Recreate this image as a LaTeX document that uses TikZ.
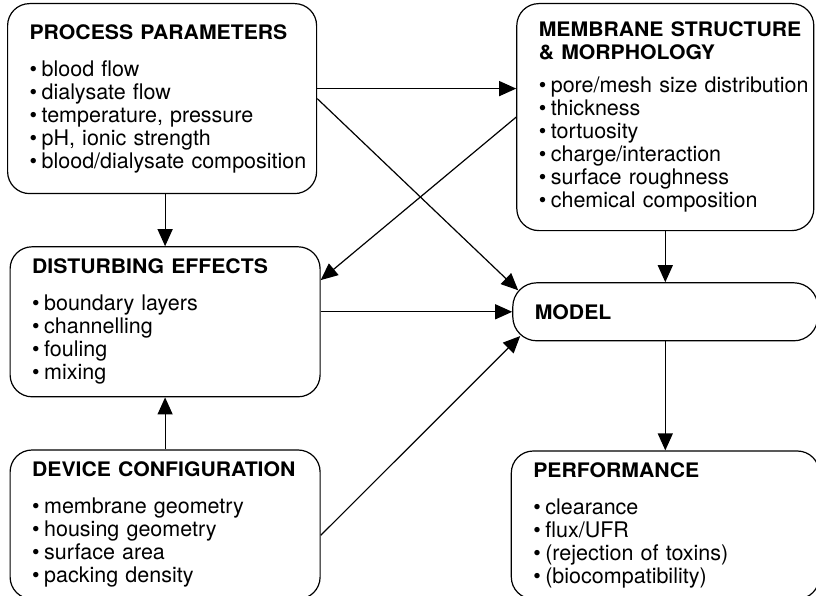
\documentclass[tikz,border=0pt]{standalone}
\usepackage{fontspec}
\setmainfont{TeX Gyre Heros}
\newfontfamily\hdrfont{TeX Gyre Heros}[FakeStretch=1.06]
\usetikzlibrary{positioning}
\usetikzlibrary{arrows.meta}

\newcommand{\itm}[1]{\mbox{\textbullet\hspace{4.5pt}#1}}
\newcommand{\hdr}[1]{\mbox{\hdrfont\bfseries\fontsize{20}{23}\selectfont #1}}

\tikzset{
	block/.style={draw,
		line width=1.2pt,
		rounded corners=22pt,
		align=left,
		inner xsep=22pt,
		inner ysep=0pt,
		font=\fontsize{21.5}{23}\selectfont},
	flow/.style={line width=1.2pt,
		-{Triangle[length=17pt,width=15pt]}}
}

\begin{document}
\begin{tikzpicture}[x=1pt, y=1pt]
			\useasboundingbox (0,0) rectangle (816,-596);

			% Process Parameters
			\node [block,
				text width=265pt,
				minimum height=190pt,
				anchor=north west
				] (pp) at (7,-3) {\hdr{PROCESS PARAMETERS}\\[14pt]
				\itm{blood flow}\\
				\itm{dialysate flow}\\
				\itm{temperature, pressure}\\
				\itm{pH, ionic strength}\\
				\itm{blood/dialysate composition}};

			% Membrane Structure
			\node [block,
				text width=253pt,
				minimum height=227pt,
				right=199pt of pp.north east,
				anchor=north west
				] (ms) {\hdr{MEMBRANE STRUCTURE}\\
				\hdr{\& MORPHOLOGY}\\[10pt]
				\itm{pore/mesh size distribution}\\
				\itm{thickness}\\
				\itm{tortuosity}\\
				\itm{charge/interaction}\\
				\itm{surface roughness}\\
				\itm{chemical composition}};

			% Disturbing Effects
			\node [block,
				text width=266pt,
				minimum height=150pt,
				below=52pt of pp,
				xshift=3pt
				] (de) {\hdr{DISTURBING EFFECTS}\\[14pt]
				\itm{boundary layers}\\
				\itm{channelling}\\
				\itm{fouling}\\
				\itm{mixing}};

			% Device Configuration
			\node [block,
				text width=266pt,
				minimum height=149pt,
				below=52pt of de
				] (dc) {\hdr{DEVICE CONFIGURATION}\\[14pt]
				\itm{membrane geometry}\\
				\itm{housing geometry}\\
				\itm{surface area}\\
				\itm{packing density}};

			% Model
			\node [block,
				rounded corners=24pt,
				text width=261pt,
				minimum height=58pt,
				below=51pt of ms
				] (model) {\hdr{MODEL}};

			% Performance
			\node [block,
				text width=264pt,
				minimum height=148pt,
				below=109pt of model
				] (perf) {\hdr{PERFORMANCE}\\[14pt]
				\itm{clearance}\\
				\itm{flux/UFR}\\
				\itm{(rejection of toxins)}\\
				\itm{(biocompatibility)}};

			% Arrows
			\draw[flow] ([yshift=10pt]pp.east) -- ([yshift=10pt]pp.east -| ms.west);
			\draw[flow] (pp.east) -- ([xshift=6pt]model.172);
			\draw[flow] (ms.west) -- (de.15);
			\draw[flow] (de.east |- model.west) -- (model.west);
			\draw[flow] (dc.-4) -- ([xshift=8pt]model.189);
			\draw[flow] (de.north |- pp.south) -- (de.north);
			\draw[flow] (dc.north) -- (de.south);
			\draw[flow] (ms.south) -- (model.north);
			\draw[flow] (model.south) -- (perf.north);

		\end{tikzpicture}
\end{document}
